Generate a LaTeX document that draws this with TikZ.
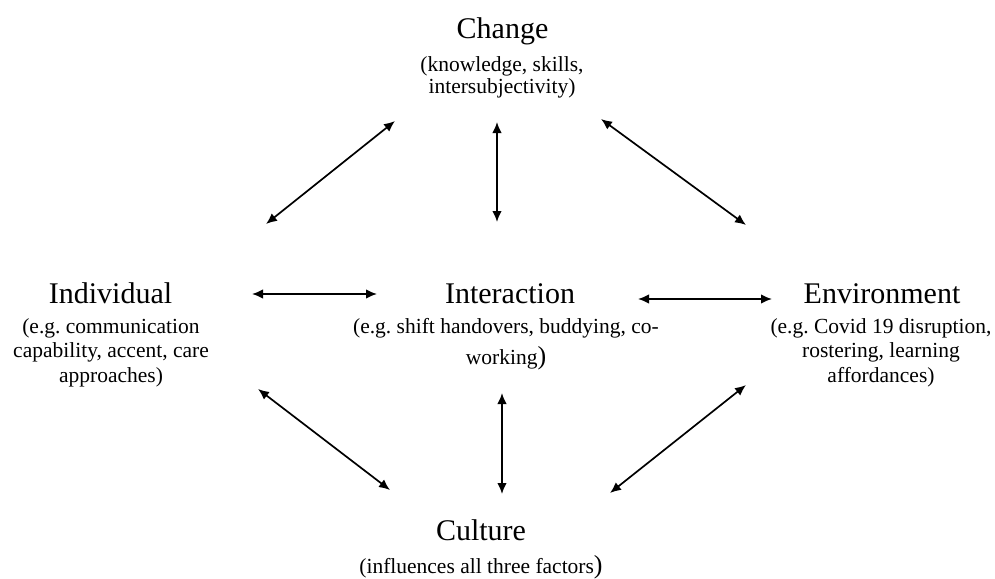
\documentclass[tikz,border=0pt]{standalone}
\usepackage{fontspec}
\setmainfont{Liberation Serif}
\usetikzlibrary{arrows.meta}
\frenchspacing
\tikzset{
  ttl/.style={anchor=base, inner sep=0pt, font=\fontsize{30}{34}\selectfont},
  sub/.style={anchor=north, inner sep=0pt, align=center, font=\fontsize{21.5}{24.5}\selectfont},
  biarrow/.style={line width=1.7pt, {Latex[length=11pt,width=9.5pt]}-{Latex[length=11pt,width=9.5pt]}}
}
\begin{document}
\begin{tikzpicture}[x=1pt,y=-1pt]
\useasboundingbox (0,0) rectangle (995,578);
% titles
\node[ttl] (chg) at (502.5,38) {Change};
\node[ttl] (ind) at (110.5,303) {Individual};
\node[ttl] (int) at (510,303) {Interaction};
\node[ttl] (env) at (882,303) {Environment};
\node[ttl] (cul) at (481,540) {Culture};
% subtitles
\node[sub] (chgsub) at (502,56) {(knowledge, skills,\\[-2pt]intersubjectivity)};
\node[sub] (indsub) at (111,318) {(e.g. communication\\capability, accent, care\\approaches)};
\node[sub] (intsub) at (506,318) {(e.g. shift handovers, buddying, co-\\[7pt]working{\fontsize{26}{26}\selectfont)}};
\node[sub] (envsub) at (881,318) {(e.g. Covid 19 disruption,\\rostering, learning\\affordances)};
\node[sub] (culsub) at (481,555) {(influences all three factors{\fontsize{26}{26}\selectfont)}};
% arrow end points
\coordinate (a1s) at (252,294); \coordinate (a1e) at (377,294);
\coordinate (a2s) at (638,299); \coordinate (a2e) at (772,299);
\coordinate (a3s) at (266,224); \coordinate (a3e) at (395,121);
\coordinate (a4s) at (497,122); \coordinate (a4e) at (497,222);
\coordinate (a5s) at (601,119); \coordinate (a5e) at (746,225);
\coordinate (a6s) at (258,389); \coordinate (a6e) at (390,490);
\coordinate (a7s) at (502,393); \coordinate (a7e) at (502,494);
\coordinate (a8s) at (746,385); \coordinate (a8e) at (610,493);
\draw[biarrow] (a1s) -- (a1e);
\draw[biarrow] (a2s) -- (a2e);
\draw[biarrow] (a3s) -- (a3e);
\draw[biarrow] (a4s) -- (a4e);
\draw[biarrow] (a5s) -- (a5e);
\draw[biarrow] (a6s) -- (a6e);
\draw[biarrow] (a7s) -- (a7e);
\draw[biarrow] (a8s) -- (a8e);
\end{tikzpicture}
\end{document}
